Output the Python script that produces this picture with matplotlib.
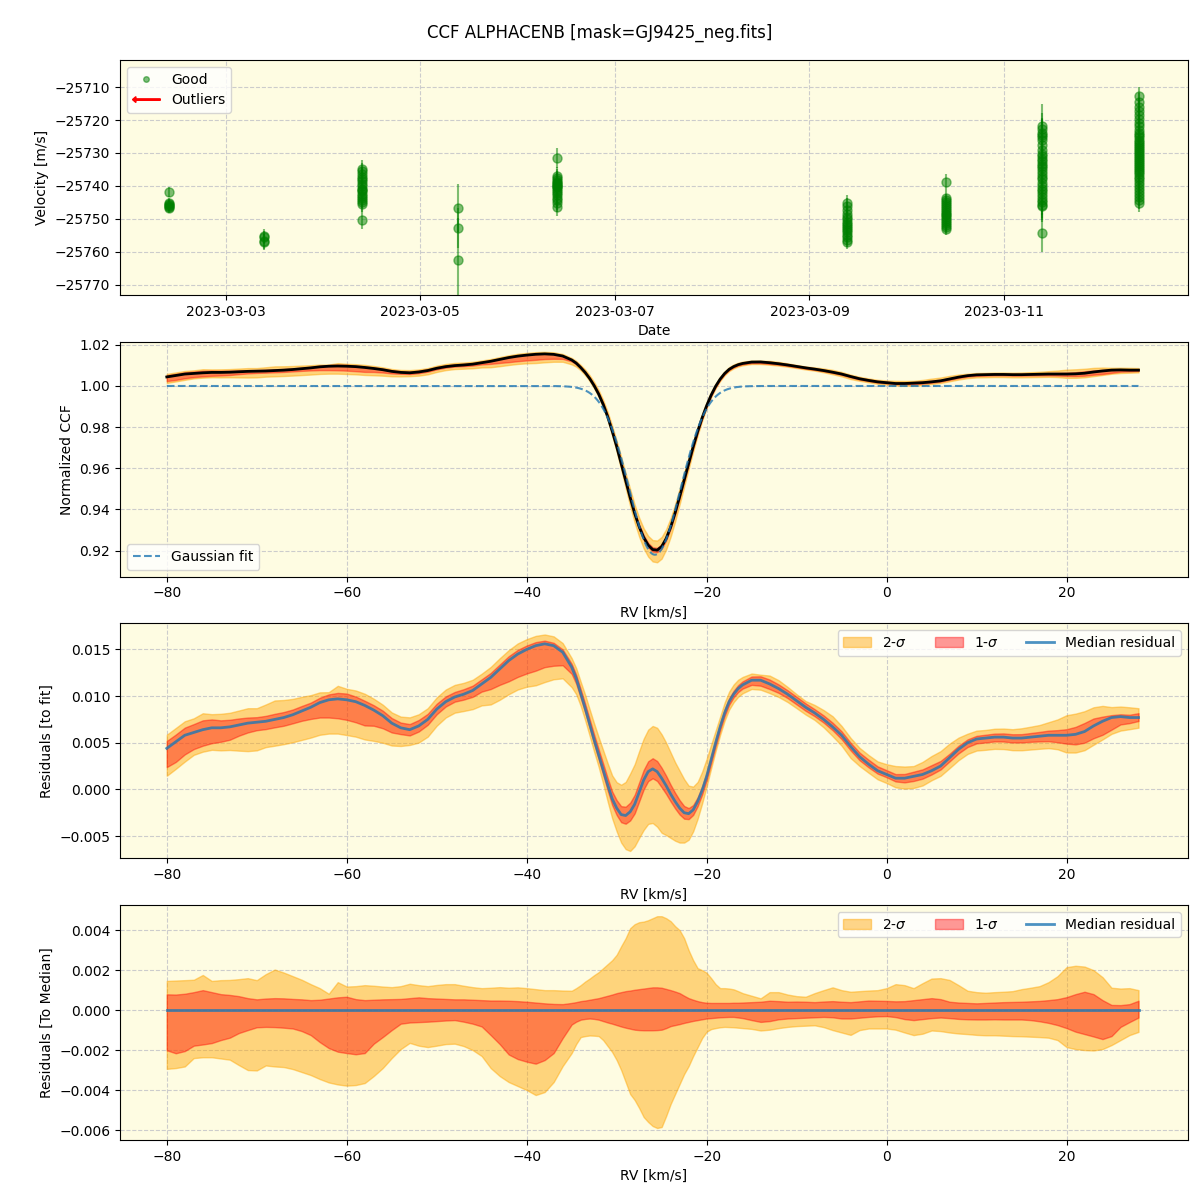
import numpy as np
import matplotlib
matplotlib.use("Agg")
import matplotlib.pyplot as plt
import matplotlib.dates as mdates
import matplotlib.patches as mpatches
from matplotlib.lines import Line2D
from matplotlib.legend_handler import HandlerPatch
from matplotlib.ticker import ScalarFormatter

# ---------------- Panel 1 data: RV time series ----------------
base_date = np.datetime64("2023-03-02T00:00:00")
# nightly epochs (days after 2023-03-02 00:00)
epoch_days = [0.412, 1.392, 2.402, 3.392, 4.402, 7.381, 8.402, 9.392, 10.392]

v1 = [-25741.8, -25745.2, -25745.6, -25746.0, -25746.3, -25745.8, -25746.8]
e1 = [1.6, 1.4, 1.5, 1.5, 1.4, 1.6, 1.5]
v2 = [-25755.1, -25755.6, -25756.8, -25757.1]
e2 = [2.2, 2.0, 2.3, 2.4]
v3 = [-25734.8, -25735.6, -25736.5, -25737.2, -25738.0, -25738.6, -25739.3, -25740.1,
      -25740.8, -25741.6, -25742.3, -25743.0, -25743.6, -25744.2, -25744.8, -25745.4,
      -25741.2, -25750.2]
e3 = [2.8, 2.5, 2.4, 2.5, 2.6, 2.4, 2.5, 2.5, 2.6, 2.4, 2.5, 2.6, 2.5, 2.4, 2.6, 2.5, 2.5, 2.8]
v4 = [-25746.7, -25752.7, -25762.6]
e4 = [7.4, 6.0, 13.0]
v5 = [-25731.5, -25736.9, -25737.5, -25738.2, -25738.8, -25739.4, -25739.9, -25740.4,
      -25741.0, -25741.6, -25742.2, -25742.8, -25743.6, -25744.4, -25745.2, -25746.4,
      -25739.0, -25740.0]
e5 = [3.0, 2.7, 2.6, 2.8, 2.7, 2.6, 2.8, 2.7, 2.6, 2.7, 2.8, 2.6, 2.7, 2.8, 2.7, 2.8, 2.6, 2.7]
v6 = [-25745.3, -25746.0, -25747.2, -25748.5, -25749.3, -25750.0, -25750.8, -25751.4,
      -25752.0, -25752.6, -25753.3, -25754.0, -25754.8, -25755.6, -25756.3, -25757.0]
e6 = [2.6, 2.3, 2.2, 2.4, 2.3, 2.2, 2.3, 2.4, 2.2, 2.3, 2.2, 2.4, 2.3, 2.2, 2.3, 2.2]
v7 = [-25738.9, -25743.5, -25744.2, -25744.9, -25745.6, -25746.2, -25746.8, -25747.3,
      -25747.9, -25748.4, -25748.9, -25749.5, -25750.1, -25750.6, -25751.2, -25751.8,
      -25752.4, -25753.1]
e7 = [2.5, 2.0, 1.9, 2.0, 1.8, 1.9, 2.0, 1.8, 1.9, 2.0, 1.8, 1.9, 2.0, 1.8, 1.9, 2.0, 1.9, 1.9]
v8 = [-25721.9, -25722.8, -25724.0, -25724.6, -25725.3, -25726.0, -25727.5, -25729.0,
      -25730.2, -25731.0, -25731.8, -25732.5, -25733.2, -25733.9, -25734.6, -25735.5,
      -25736.4, -25737.2, -25738.0, -25739.0, -25740.0, -25740.8, -25741.6, -25742.5,
      -25743.3, -25744.2, -25745.0, -25745.8, -25746.2, -25754.2]
e8 = [6.7, 5.0, 4.5, 4.8, 4.6, 4.4, 4.7, 4.5, 4.6, 4.8, 4.5, 4.4, 4.6, 4.7, 4.5, 4.6,
      4.4, 4.7, 4.5, 4.6, 4.8, 4.5, 4.4, 4.6, 4.7, 4.5, 4.6, 4.4, 4.8, 5.9]
v9 = [-25712.8, -25714.5, -25716.0, -25717.2, -25718.5, -25719.6, -25720.8, -25721.9,
      -25723.0, -25723.8, -25724.6, -25725.3, -25726.0, -25726.7, -25727.3, -25727.9,
      -25728.5, -25729.1, -25729.7, -25730.3, -25730.9, -25731.5, -25732.1, -25732.7,
      -25733.3, -25733.9, -25734.5, -25735.1, -25735.8, -25736.5, -25737.2, -25738.0,
      -25738.8, -25739.6, -25740.5, -25741.4, -25742.4, -25743.4, -25744.3, -25745.2]
e9 = [2.7, 2.8, 2.6, 2.9, 2.7, 2.8, 2.6, 2.7, 2.9, 2.8, 2.6, 2.7, 2.8, 2.9, 2.6, 2.7,
      2.8, 2.7, 2.6, 2.9, 2.8, 2.7, 2.6, 2.8, 2.7, 2.9, 2.6, 2.8, 2.7, 2.6, 2.8, 2.7,
      2.9, 2.6, 2.8, 2.7, 2.6, 2.8, 2.7, 2.8]

vel_groups = [v1, v2, v3, v4, v5, v6, v7, v8, v9]
err_groups = [e1, e2, e3, e4, e5, e6, e7, e8, e9]

# ---------------- Panels 2-4 data ----------------
# RV sampling: 1 km/s in the wings, 0.5 km/s across the line core
rv_left = np.arange(-80, -35)          # -80 .. -36
rv_core = np.arange(-35, -15.9, 0.5)   # -35 .. -16
rv_right = np.arange(-15, 29)          # -15 .. 28
rv = np.concatenate([rv_left, rv_core, rv_right])

# Gaussian fit parameters
g_base, g_amp, g_center, g_sigma = 1.0, -0.0820, -25.75, 2.87

# median residual (CCF - fit)
med_res = [
    # -80 .. -36
    0.0044, 0.0051, 0.0058, 0.0061, 0.0064, 0.0066, 0.0066, 0.0067, 0.0069, 0.0071,
    0.0072, 0.0073, 0.0075, 0.0077, 0.0080, 0.0084, 0.0088, 0.0093, 0.0096, 0.0097,
    0.0096, 0.0094, 0.0090, 0.0085, 0.0079, 0.0071, 0.0066, 0.0064, 0.0068, 0.0075,
    0.0086, 0.0094, 0.0099, 0.0102, 0.0106, 0.0113, 0.0120, 0.0129, 0.0138, 0.0145,
    0.0150, 0.0154, 0.0156, 0.0154, 0.0147,
    # -35 .. -16 (0.5 step)
    0.0131, 0.0119, 0.0103, 0.0087, 0.0070, 0.0053, 0.0037, 0.0021, 0.0005, -0.0010,
    -0.0020, -0.0027, -0.0028, -0.0024, -0.0016, -0.0003, 0.0010, 0.0019, 0.0022, 0.0019,
    0.0012, 0.0004, -0.0005, -0.0013, -0.0020, -0.0025, -0.0026, -0.0022, -0.0013, -0.0001,
    0.0014, 0.0032, 0.0050, 0.0067, 0.0082, 0.0094, 0.0102, 0.0108, 0.0112,
    # -15 .. 28
    0.0117, 0.0117, 0.0113, 0.0108, 0.0102,
    0.0095, 0.0088, 0.0082, 0.0075, 0.0067, 0.0058, 0.0046, 0.0035, 0.0027, 0.0020,
    0.0016, 0.0012, 0.0012, 0.0014, 0.0016, 0.0020, 0.0025, 0.0034, 0.0043, 0.0050,
    0.0054, 0.0055, 0.0056, 0.0056, 0.0055, 0.0055, 0.0056, 0.0057, 0.0058, 0.0058,
    0.0058, 0.0059, 0.0062, 0.0068, 0.0073, 0.0077, 0.0078, 0.0077, 0.0077,
]

# spread of the residuals around the median
up2 = [
    0.00146, 0.00148, 0.00150, 0.00152, 0.00176, 0.00146, 0.00150, 0.00151, 0.00155, 0.00160,
    0.00150, 0.00180, 0.00203, 0.00188, 0.00170, 0.00152, 0.00130, 0.00110, 0.00082, 0.00140,
    0.00118, 0.00120, 0.00125, 0.00122, 0.00118, 0.00115, 0.00120, 0.00132, 0.00125, 0.00120,
    0.00126, 0.00130, 0.00130, 0.00122, 0.00115, 0.00110, 0.00112, 0.00115, 0.00112, 0.00114,
    0.00110, 0.00105, 0.00100, 0.00100, 0.00098,
    0.00097, 0.00110, 0.00125, 0.00143, 0.00158, 0.00175, 0.00190, 0.00210, 0.00230, 0.00250,
    0.00277, 0.00320, 0.00360, 0.00410, 0.00430, 0.00440, 0.00443, 0.00450, 0.00460, 0.00470,
    0.00470, 0.00460, 0.00445, 0.00420, 0.00400, 0.00360, 0.00300, 0.00250, 0.00210, 0.00200,
    0.00187, 0.00160, 0.00130, 0.00110, 0.00110, 0.00108, 0.00104, 0.00095, 0.00085,
    0.00072, 0.00059, 0.00090, 0.00090, 0.00078,
    0.00070, 0.00067, 0.00085, 0.00100, 0.00114, 0.00100, 0.00092, 0.00095, 0.00098, 0.00100,
    0.00110, 0.00130, 0.00125, 0.00110, 0.00135, 0.00158, 0.00160, 0.00151, 0.00125, 0.00097,
    0.00090, 0.00087, 0.00090, 0.00092, 0.00095, 0.00105, 0.00112, 0.00120, 0.00140, 0.00170,
    0.00215, 0.00222, 0.00218, 0.00200, 0.00165, 0.00112, 0.00108, 0.00110, 0.00100,
]
up1 = [
    0.00079, 0.00078, 0.00082, 0.00090, 0.00100, 0.00090, 0.00080, 0.00076, 0.00070, 0.00060,
    0.00054, 0.00058, 0.00060, 0.00059, 0.00056, 0.00054, 0.00050, 0.00052, 0.00058, 0.00064,
    0.00067, 0.00055, 0.00050, 0.00052, 0.00054, 0.00055, 0.00056, 0.00060, 0.00064, 0.00060,
    0.00058, 0.00056, 0.00054, 0.00054, 0.00052, 0.00050, 0.00048, 0.00048, 0.00047, 0.00045,
    0.00042, 0.00038, 0.00034, 0.00031, 0.00030,
    0.00036, 0.00040, 0.00045, 0.00048, 0.00052, 0.00056, 0.00060, 0.00066, 0.00072, 0.00078,
    0.00085, 0.00090, 0.00095, 0.00098, 0.00102, 0.00105, 0.00108, 0.00111, 0.00114, 0.00114,
    0.00112, 0.00106, 0.00100, 0.00093, 0.00085, 0.00072, 0.00060, 0.00052, 0.00045, 0.00040,
    0.00037, 0.00036, 0.00036, 0.00036, 0.00036, 0.00036, 0.00037, 0.00037, 0.00038,
    0.00040, 0.00042, 0.00047, 0.00045, 0.00042,
    0.00043, 0.00042, 0.00040, 0.00043, 0.00045, 0.00042, 0.00040, 0.00044, 0.00048, 0.00047,
    0.00046, 0.00044, 0.00045, 0.00050, 0.00055, 0.00060, 0.00055, 0.00042, 0.00038, 0.00036,
    0.00034, 0.00036, 0.00038, 0.00040, 0.00041, 0.00042, 0.00044, 0.00046, 0.00050, 0.00055,
    0.00065, 0.00080, 0.00092, 0.00080, 0.00050, 0.00026, 0.00025, 0.00030, 0.00047,
]
lo1 = [
    -0.00201, -0.00216, -0.00205, -0.00178, -0.00172, -0.00165, -0.00150, -0.00138, -0.00115, -0.00100,
    -0.00086, -0.00084, -0.00085, -0.00088, -0.00092, -0.00105, -0.00125, -0.00160, -0.00190, -0.00208,
    -0.00215, -0.00221, -0.00215, -0.00168, -0.00135, -0.00100, -0.00068, -0.00062, -0.00060, -0.00058,
    -0.00055, -0.00052, -0.00050, -0.00058, -0.00068, -0.00082, -0.00125, -0.00170, -0.00222, -0.00245,
    -0.00258, -0.00268, -0.00250, -0.00215, -0.00140,
    -0.00072, -0.00058, -0.00048, -0.00044, -0.00042, -0.00044, -0.00048, -0.00055, -0.00062, -0.00068,
    -0.00075, -0.00082, -0.00088, -0.00093, -0.00098, -0.00100, -0.00101, -0.00101, -0.00101, -0.00100,
    -0.00098, -0.00090, -0.00080, -0.00075, -0.00070, -0.00064, -0.00059, -0.00054, -0.00050, -0.00046,
    -0.00042, -0.00040, -0.00038, -0.00036, -0.00035, -0.00034, -0.00034, -0.00037, -0.00040,
    -0.00050, -0.00059, -0.00055, -0.00046, -0.00042,
    -0.00040, -0.00038, -0.00036, -0.00034, -0.00036, -0.00042, -0.00042, -0.00038, -0.00034, -0.00031,
    -0.00030, -0.00035, -0.00045, -0.00050, -0.00045, -0.00040, -0.00037, -0.00040, -0.00044, -0.00046,
    -0.00047, -0.00047, -0.00046, -0.00047, -0.00047, -0.00047, -0.00050, -0.00056, -0.00064, -0.00075,
    -0.00090, -0.00108, -0.00120, -0.00132, -0.00145, -0.00130, -0.00084, -0.00060, -0.00037,
]
lo2 = [
    -0.00294, -0.00290, -0.00282, -0.00240, -0.00236, -0.00236, -0.00242, -0.00248, -0.00275, -0.00300,
    -0.00302, -0.00277, -0.00282, -0.00285, -0.00295, -0.00310, -0.00325, -0.00345, -0.00362, -0.00372,
    -0.00378, -0.00375, -0.00365, -0.00330, -0.00290, -0.00240, -0.00195, -0.00164, -0.00178, -0.00185,
    -0.00178, -0.00170, -0.00168, -0.00180, -0.00200, -0.00230, -0.00290, -0.00330, -0.00360, -0.00380,
    -0.00400, -0.00425, -0.00410, -0.00360, -0.00280,
    -0.00215, -0.00170, -0.00135, -0.00130, -0.00127, -0.00128, -0.00130, -0.00150, -0.00180, -0.00210,
    -0.00250, -0.00300, -0.00360, -0.00420, -0.00450, -0.00490, -0.00535, -0.00560, -0.00580, -0.00590,
    -0.00585, -0.00530, -0.00470, -0.00420, -0.00370, -0.00320, -0.00280, -0.00230, -0.00185, -0.00140,
    -0.00108, -0.00095, -0.00090, -0.00086, -0.00084, -0.00085, -0.00086, -0.00088, -0.00090,
    -0.00094, -0.00102, -0.00098, -0.00090, -0.00084,
    -0.00080, -0.00078, -0.00076, -0.00085, -0.00100, -0.00112, -0.00124, -0.00100, -0.00092, -0.00092,
    -0.00092, -0.00098, -0.00112, -0.00125, -0.00118, -0.00102, -0.00105, -0.00112, -0.00117, -0.00120,
    -0.00124, -0.00126, -0.00126, -0.00128, -0.00130, -0.00131, -0.00133, -0.00135, -0.00138, -0.00150,
    -0.00185, -0.00195, -0.00200, -0.00202, -0.00195, -0.00175, -0.00150, -0.00125, -0.00109,
]

# ---------------- Derived series ----------------
med_res = np.array(med_res)
up1, up2, lo1, lo2 = map(np.array, (up1, up2, lo1, lo2))


def gauss(x):
    return g_base + g_amp * np.exp(-0.5 * ((x - g_center) / g_sigma) ** 2)


ccf_med = gauss(rv) + med_res
rv_fit = np.linspace(rv[0], rv[-1], 1000)

dates = []
vels = []
errs = []
for d, v, e in zip(epoch_days, vel_groups, err_groups):
    t = base_date + np.timedelta64(int(round(d * 86400)), "s")
    dates += [t] * len(v)
    vels += v
    errs += e
dates = np.array(dates)

# ---------------- Figure ----------------
BG = "#FEFCE2"
GRID = dict(ls="--", color="0.8", lw=0.8)
C2 = dict(color="orange", alpha=0.45)
C1 = dict(color="red", alpha=0.4)

fig, axes = plt.subplots(4, 1, figsize=(12, 12), dpi=100)
fig.subplots_adjust(left=0.1, right=0.99, top=0.95, bottom=0.05, hspace=0.2)
fig.suptitle("CCF ALPHACENB [mask=GJ9425_neg.fits]", fontsize=12, y=0.98)

for ax in axes:
    ax.set_facecolor(BG)
    ax.set_axisbelow(True)
    ax.grid(True, **GRID)

# Panel 1
ax = axes[0]
ax.errorbar(dates, vels, yerr=errs, fmt="o", color="green", alpha=0.5,
            ms=6.5, elinewidth=1.5, capsize=0)
ax.set_ylim(-25773, -25701.8)
ax.set_ylabel("Velocity [m/s]")
ax.set_xlabel("Date")
ax.xaxis.set_major_locator(mdates.DayLocator(bymonthday=[1, 3, 5, 7, 9, 11, 13]))
ax.xaxis.set_major_formatter(mdates.DateFormatter("%Y-%m-%d"))
ax.yaxis.set_major_formatter(ScalarFormatter(useOffset=False))


def make_arrow(legend, orig_handle, xdescent, ydescent, width, height, fontsize):
    return mpatches.FancyArrow(width, 0.5 * height, -width, 0,
                               length_includes_head=True, width=0.15 * height,
                               head_width=0.6 * height, head_length=0.35 * height,
                               color="red")


good_h = Line2D([], [], marker="o", color="green", alpha=0.5, ls="none", ms=4)
out_h = mpatches.FancyArrow(0, 0, 1, 0, color="red")
ax.legend([good_h, out_h], ["Good", "Outliers"], loc="upper left",
          handler_map={mpatches.FancyArrow: HandlerPatch(patch_func=make_arrow)})

# Panel 2
ax = axes[1]
ax.fill_between(rv, ccf_med + lo2, ccf_med + up2, **C2)
ax.fill_between(rv, ccf_med + lo1, ccf_med + up1, **C1)
ax.plot(rv, ccf_med, color="black", lw=2)
ax.plot(rv_fit, gauss(rv_fit), ls="--", color="C0", alpha=0.8, lw=1.5, label="Gaussian fit")
ax.set_ylim(0.9074, 1.0215)
ax.set_ylabel("Normalized CCF")
ax.set_xlabel("RV [km/s]")
ax.legend(loc="lower left")

# Panel 3
ax = axes[2]
ax.fill_between(rv, med_res + lo2, med_res + up2, label=r"2-$\sigma$", **C2)
ax.fill_between(rv, med_res + lo1, med_res + up1, label=r"1-$\sigma$", **C1)
ax.plot(rv, med_res, color="C0", alpha=0.8, lw=2, label="Median residual")
ax.set_ylim(-0.00738, 0.01778)
ax.set_ylabel("Residuals [to fit]")
ax.set_xlabel("RV [km/s]")
ax.legend(loc="upper right", ncol=3)

# Panel 4
ax = axes[3]
ax.fill_between(rv, lo2, up2, label=r"2-$\sigma$", **C2)
ax.fill_between(rv, lo1, up1, label=r"1-$\sigma$", **C1)
ax.plot(rv, np.zeros_like(med_res), color="C0", alpha=0.8, lw=2, label="Median residual")
ax.set_ylim(-0.0065, 0.00525)
ax.set_ylabel("Residuals [To Median]")
ax.set_xlabel("RV [km/s]")
ax.legend(loc="upper right", ncol=3)

for ax in axes[1:]:
    ax.set_xlim(-85.2, 33.5)

fig.savefig("out.png", dpi=100)
